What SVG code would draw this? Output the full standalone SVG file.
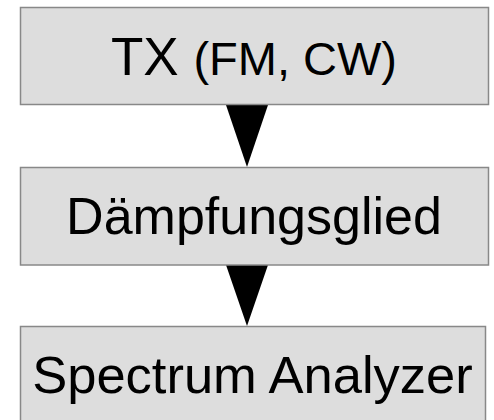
<svg xmlns="http://www.w3.org/2000/svg" width="494" height="420" viewBox="0 0 494 420">
<style>
.box{fill:#dddddd;stroke:#888888;stroke-width:1.5}
.lbl{font-family:"Liberation Sans",Arial,sans-serif;fill:#000;text-anchor:middle}
.arr{fill:#000}
</style>
<rect width="494" height="420" fill="#ffffff"/>
<g id="connectors">
<polygon class="arr" points="226,105 268,105 247,167"/>
<polygon class="arr" points="226,265 268,265 247,326"/>
</g>
<g id="tx">
<rect class="box" x="20.5" y="7.5" width="468" height="97"/>
<text class="lbl" x="254" y="75" font-size="53">TX <tspan font-size="47">(FM, CW)</tspan></text>
</g>
<g id="daempfungsglied">
<rect class="box" x="20.5" y="167.5" width="468" height="97.5"/>
<text class="lbl" x="254" y="234" font-size="52">Dämpfungsglied</text>
</g>
<g id="spectrum">
<rect class="box" x="20.5" y="326.5" width="465" height="100"/>
<text class="lbl" x="252.5" y="393" font-size="52.5">Spectrum Analyzer</text>
</g>
</svg>
